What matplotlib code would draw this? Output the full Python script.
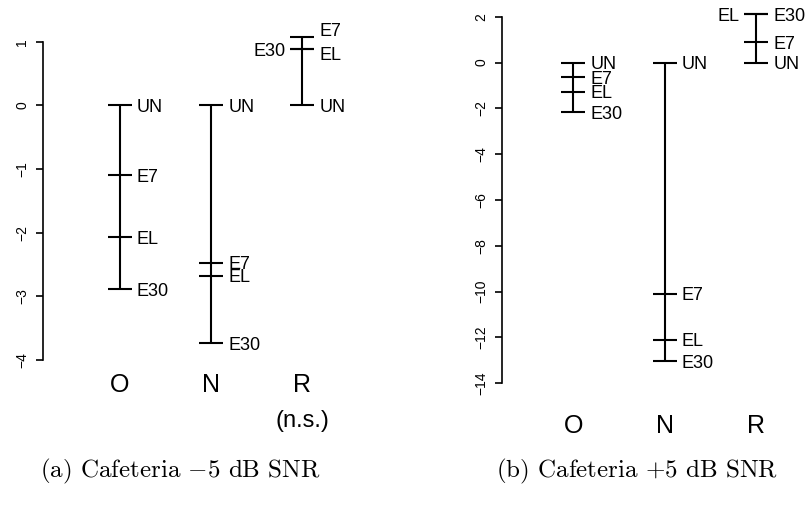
import matplotlib
matplotlib.use("Agg")
import matplotlib.pyplot as plt

# Group letters along the x direction
groups = ["O", "N", "R"]
conditions = ["UN", "E7", "EL", "E30"]

# Panel (a): Cafeteria -5 dB SNR, score difference per condition
a_O = [0.0, -1.10, -2.07, -2.89]
a_N = [0.0, -2.47, -2.68, -3.74]
a_R = [0.0, 1.08, 0.89, 0.88]
a_left_labels = {"R": ["E30"]}
a_notes = {"R": "(n.s.)"}
a_yticks = [1, 0, -1, -2, -3, -4]

# Panel (b): Cafeteria +5 dB SNR
b_O = [0.0, -0.64, -1.27, -2.17]
b_N = [0.0, -10.1, -12.11, -13.03]
b_R = [0.0, 0.89, 2.10, 2.11]
b_left_labels = {"R": ["EL"]}
b_notes = {}
b_yticks = [2, 0, -2, -4, -6, -8, -10, -12, -14]

captions = ["(a) Cafeteria $-$5 dB SNR", "(b) Cafeteria $+$5 dB SNR"]

# Vertical nudges (pixels) that keep crowded labels apart
a_nudge = {("R", "E7"): 7, ("R", "EL"): -5}
b_nudge = {}

W, H = 810, 508
plt.rcParams["mathtext.fontset"] = "cm"
sans = "Liberation Sans"

fig = plt.figure(figsize=(W / 100, H / 100), dpi=100)


def px_axes(x0, x1, ytop, ybot):
    return fig.add_axes([x0 / W, (H - ybot) / H, (x1 - x0) / W, (ybot - ytop) / H])


def draw_panel(ax, series, left_labels, notes, nudge, yticks, xlim,
               group_y_off, note_y_off):
    ax.set_xlim(*xlim)
    ax.set_ylim(min(yticks), max(yticks))
    for s in ["top", "right", "bottom"]:
        ax.spines[s].set_visible(False)
    ax.spines["left"].set_linewidth(1.2)
    ax.spines["left"].set_bounds(min(yticks), max(yticks))
    ax.set_xticks([])
    ax.set_yticks(yticks)
    ax.set_yticklabels([f"{t:d}".replace("-", "\u2212") for t in yticks],
                       rotation=90, va="center", fontfamily=sans, fontsize=10)
    ax.tick_params(axis="y", length=5, width=1.2, pad=5)
    ax.patch.set_visible(False)

    for gi, (g, vals) in enumerate(zip(groups, series)):
        x = gi + 1
        ax.plot([x, x], [min(vals), max(vals)], color="black", lw=1.5,
                solid_capstyle="butt", clip_on=False)
        for cond, v in zip(conditions, vals):
            ax.plot([x], [v], marker="_", markersize=17, markeredgewidth=1.5,
                    color="black", clip_on=False)
            on_left = cond in left_labels.get(g, [])
            dy = -2 + nudge.get((g, cond), 0)
            ax.annotate(cond, xy=(x, v), xytext=(-17 if on_left else 17, dy),
                        textcoords="offset pixels",
                        ha="right" if on_left else "left", va="center",
                        fontfamily=sans, fontsize=13, annotation_clip=False)
        ax.annotate(g, xy=(x, 0), xycoords=("data", "axes fraction"),
                    xytext=(0, -group_y_off), textcoords="offset pixels",
                    ha="center", va="center", fontfamily=sans, fontsize=18,
                    annotation_clip=False)
        if g in notes:
            ax.annotate(notes[g], xy=(x, 0), xycoords=("data", "axes fraction"),
                        xytext=(0, -note_y_off), textcoords="offset pixels",
                        ha="center", va="center", fontfamily=sans, fontsize=17,
                        annotation_clip=False)


ax_a = px_axes(43, 360, 41.7, 360)
draw_panel(ax_a, [a_O, a_N, a_R], a_left_labels, a_notes, a_nudge, a_yticks,
           (1 - 77 / 91.15, 1 + 240 / 91.15), 25, 61)

ax_b = px_axes(502.3, 800, 16.7, 383.3)
draw_panel(ax_b, [b_O, b_N, b_R], b_left_labels, b_notes, b_nudge, b_yticks,
           (1 - 71 / 91.5, 1 + (800 - 573.3) / 91.5), 43, 80)

for cx, cap in zip([180, 637], captions):
    fig.text(cx / W, 1 - 471 / H, cap, ha="center", va="center",
             fontfamily="cmr10", fontsize=18)

fig.savefig("out.png", dpi=100)
